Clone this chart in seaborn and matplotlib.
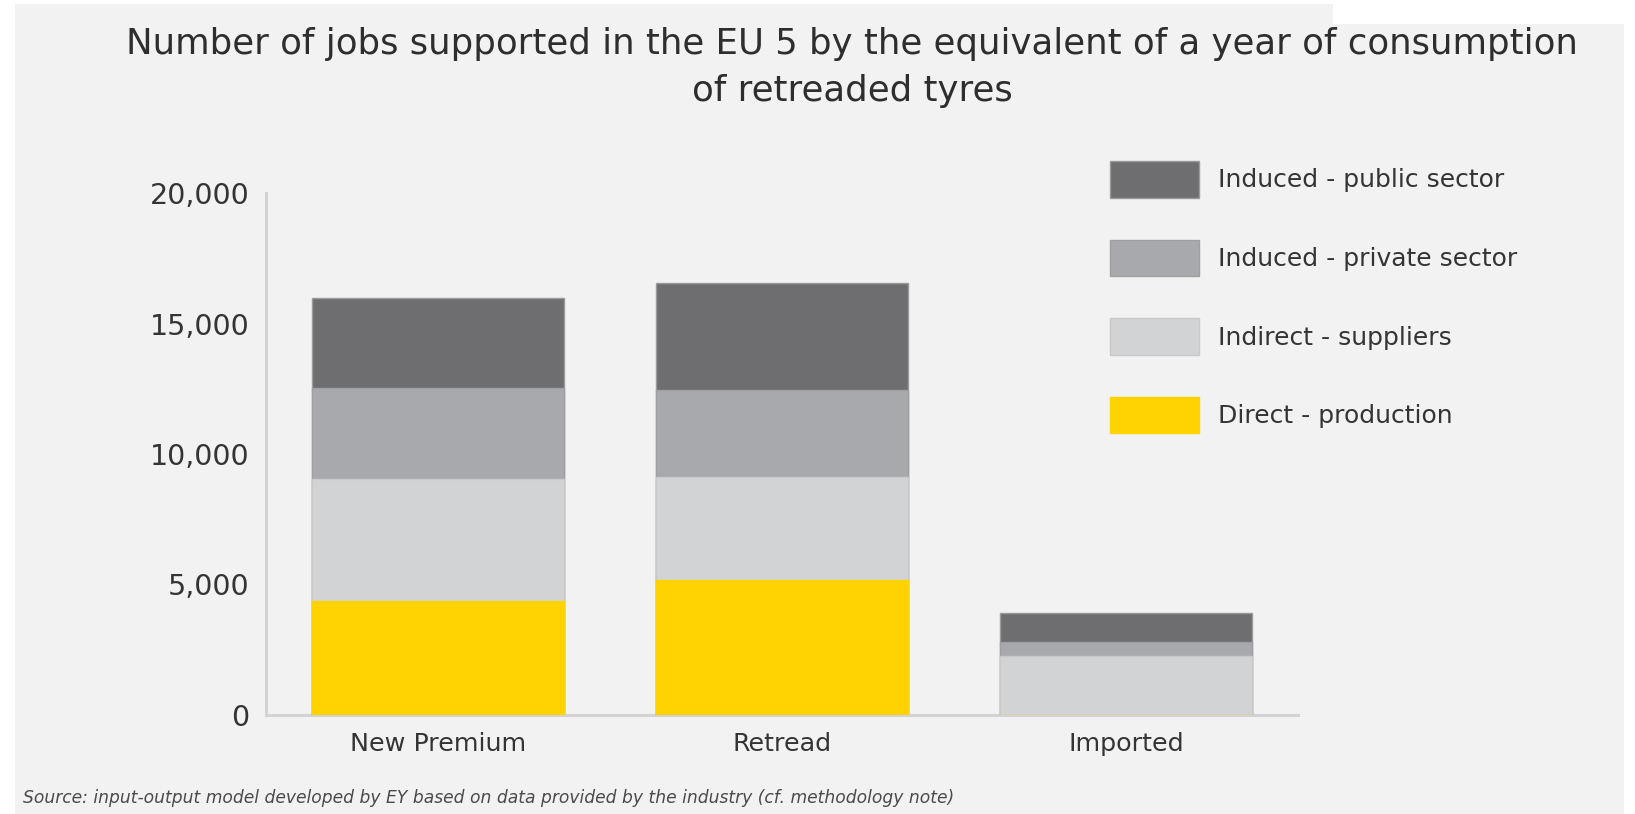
import matplotlib
matplotlib.use("Agg")
import matplotlib.pyplot as plt
from matplotlib.patches import Rectangle, Patch
import seaborn as sns
import pandas as pd
import numpy as np

# Jobs supported per product category, split by type of employment
categories = ["New Premium", "Retread", "Imported"]
direct_production = [4350, 5180, 0]
indirect_suppliers = [4680, 3930, 2260]
induced_private = [3500, 3350, 540]
induced_public = [3430, 4080, 1110]

series_names = ["Direct - production", "Indirect - suppliers",
                "Induced - private sector", "Induced - public sector"]
series_values = [direct_production, indirect_suppliers, induced_private, induced_public]
series_colors = ["#FFD300", "#D2D3D5", "#A8A9AC", "#6E6E70"]
series_edges = ["#FFD300", "#C8C9CC", "#9E9FA2", "#9A9A9C"]

y_ticks = [0, 5000, 10000, 15000, 20000]
y_tick_labels = ["0", "5,000", "10,000", "15,000", "20,000"]

title_lines = ["Number of jobs supported in the EU 5 by the equivalent of a year of consumption",
               "of retreaded tyres"]
source_note = ("Source: input-output model developed by EY based on data provided by the "
               "industry (cf. methodology note)")

BG = "#F2F2F2"
TEXT = "#343434"

sns.set_theme(style="white")
plt.rcParams["font.family"] = ["DejaVu Sans"]

fig = plt.figure(figsize=(16.35, 8.14), dpi=100, facecolor="white")

# Grey panel behind the chart, with the small notch at the top right
W, H = 1635.0, 814.0
fig.patches.append(Rectangle((15 / W, 0), (1333 - 15) / W, (814 - 4) / H,
                             transform=fig.transFigure, facecolor=BG, edgecolor="none", zorder=-10))
fig.patches.append(Rectangle((1333 / W, 0), (1624 - 1333) / W, (814 - 24) / H,
                             transform=fig.transFigure, facecolor=BG, edgecolor="none", zorder=-10))

ax = fig.add_axes([266 / W, 1 - 715 / H, (1298 - 266) / W, (715 - 193) / H])
ax.set_facecolor(BG)

# Stacked bars: draw cumulative totals from the top layer down
cum = np.cumsum(np.array(series_values), axis=0)
frames = []
for name, vals in zip(series_names, cum):
    frames.append(pd.DataFrame({"category": categories, "jobs": vals, "series": name}))

for i in range(len(series_names) - 1, -1, -1):
    df = frames[i]
    sns.barplot(data=df, x="category", y="jobs", order=categories, color=series_colors[i],
                width=0.73, saturation=1, edgecolor=series_edges[i], linewidth=1.0,
                ax=ax, zorder=2 + (len(series_names) - i))

ax.set_xlim(-0.5, 2.5)
ax.set_ylim(0, 20000)
ax.set_yticks(y_ticks)
ax.set_yticklabels(y_tick_labels)
ax.set_xlabel("")
ax.set_ylabel("")

for side in ["top", "right"]:
    ax.spines[side].set_visible(False)
for side in ["left", "bottom"]:
    ax.spines[side].set_visible(True)
    ax.spines[side].set_color("#D3D3D6")
    ax.spines[side].set_linewidth(2.2)

ax.tick_params(axis="y", length=0, pad=12, labelsize=20.5, labelcolor=TEXT)
ax.tick_params(axis="x", length=0, pad=12, labelsize=18.3, labelcolor=TEXT)

# Legend, listed top layer first
handles = [Patch(facecolor=series_colors[i], edgecolor=series_edges[i], linewidth=1.0)
           for i in range(len(series_names) - 1, -1, -1)]
labels = [series_names[i] for i in range(len(series_names) - 1, -1, -1)]
fig.legend(handles, labels, loc="upper left",
           bbox_to_anchor=(1110 / W, 1 - 161 / H), frameon=False,
           fontsize=18, handlelength=3.55, handleheight=1.875, handletextpad=0.75,
           labelspacing=1.68, borderpad=0, borderaxespad=0, labelcolor=TEXT)

# Title and source
fig.text(852 / W, 1 - 54 / H, title_lines[0], ha="center", va="baseline",
         fontsize=25.6, color="#2E2E2E")
fig.text(852 / W, 1 - 101 / H, title_lines[1], ha="center", va="baseline",
         fontsize=25.6, color="#2E2E2E")
fig.text(23 / W, 1 - 803 / H, source_note, ha="left", va="baseline",
         fontsize=12.35, style="italic", color="#4A4A4A")

fig.savefig("out.png", dpi=100, facecolor=fig.get_facecolor())
